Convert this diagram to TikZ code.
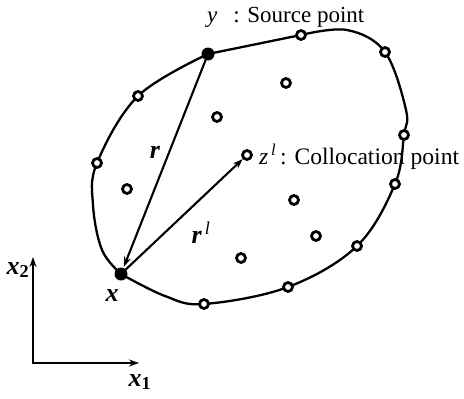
\documentclass[tikz,border=0pt]{standalone}
\usepackage{fontspec}
\setmainfont{Liberation Serif}
\usetikzlibrary{arrows.meta}
\begin{document}
\begin{tikzpicture}[x=1pt,y=-1pt,line join=round,line cap=round,>={Stealth[length=10pt,width=7pt]},
	bnode/.style={circle,draw,fill=white,line width=2.8pt,inner sep=0pt,minimum size=9pt},
	src/.style={circle,fill,inner sep=0pt,minimum size=13pt},
	lbl/.style={font=\fontsize{23}{27}\selectfont,inner sep=0pt},
	var/.style={font=\fontsize{26}{30}\selectfont\bfseries\itshape,inner sep=0pt}]
	\useasboundingbox (0,0) rectangle (464,399);
	
	% boundary
	\draw[line width=2.3pt] plot[smooth,tension=0.6] coordinates {(301,35) (347,30) (385,52) (406,110) (404,135) (395,184) (357,246) (288,287) (204,304) (165,296) (121,274)};
	\draw[line width=2.3pt] plot[smooth,tension=0.6] coordinates {(121,274) (102,250) (93,205) (97,163) (138,96) (208,54)};
	\draw[line width=2.3pt] (208,54) -- (301,35);
	
	\node[src] (y) at (208,54) {};
	\node[src] (x) at (121,274) {};
	\node[bnode] (z) at (247,155) {};
	\foreach \p [count=\i] in {(301,35),(385,52),(404,135),(395,184),(357,246),(288,287),(204,304),(97,163),(138,96)}
		\node[bnode] (b\i) at \p {};
	\foreach \p [count=\i] in {(286,83),(217,117),(127,189),(294,200),(316,236),(241,258)}
		\node[bnode] (c\i) at \p {};
	
	% vectors
	\draw[->,line width=2.1pt,shorten >=1pt] (y) -- (x);
	\draw[->,line width=2.1pt] (x) -- (z);
	
	\node[lbl,anchor=west] (ylab) at (207,17) {\textit{y}\,\; : Source point};
	\node[lbl,anchor=west,font=\fontsize{23.6}{28}\selectfont] (zlab) at (259,157) {\textit{z}\textsuperscript{\,\textit{l}}\,: Collocation point};
	\node[var] (rlab) at (155,152) {r};
	\node[var] (rplab) at (201,233) {r\textsuperscript{\,\mdseries l}};
	\node[var] (xlab) at (112,296) {x};
	
	% axes
	\coordinate (O) at (33,363);
	\coordinate (e1) at (139,363);
	\coordinate (e2) at (33,257);
	\draw[->,line width=2.1pt] (O) -- (e1);
	\draw[->,line width=2.1pt] (O) -- (e2);
	\node[var] (x1lab) at (140,382) {x\textsubscript{\upshape 1}};
	\node[var] (x2lab) at (18,270) {x\textsubscript{\upshape 2}};
\end{tikzpicture}
\end{document}
